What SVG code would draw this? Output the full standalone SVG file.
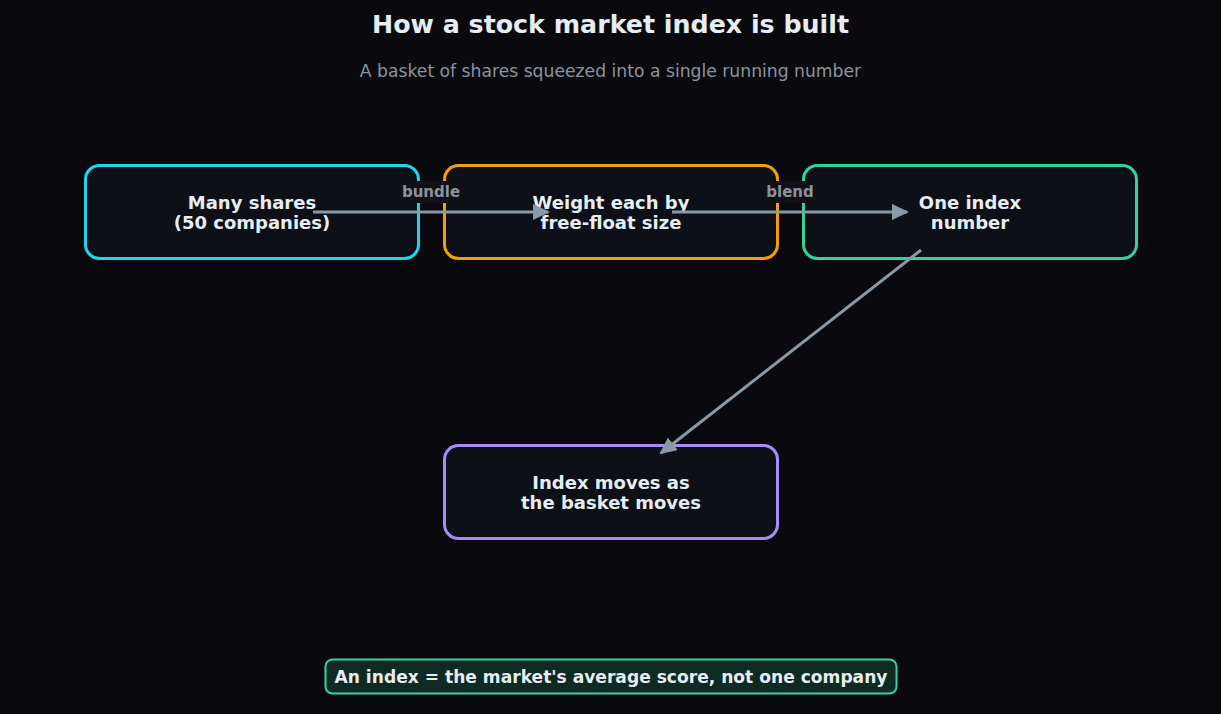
<svg xmlns="http://www.w3.org/2000/svg" width="1221" height="714" viewBox="0 0 1221 714">
<defs>
<style>
.t{font-family:"DejaVu Sans",sans-serif;font-weight:bold;fill:#e6edf3;text-anchor:middle}
.node rect{fill:#0d1017;stroke-width:3}
.lbl{font-family:"DejaVu Sans",sans-serif;font-weight:bold;font-size:15px;fill:#8b949e;text-anchor:middle}
.edge{stroke:#8b98a5;stroke-width:3;fill:none}
</style>
<marker id="ah" viewBox="0 0 17 16" refX="15" refY="8" markerWidth="17" markerHeight="16" orient="auto" markerUnits="userSpaceOnUse">
<path d="M0,0 L17,8 L0,16 z" fill="#8b98a5"/>
</marker>
</defs>
<rect width="1221" height="714" fill="#0a0a0e"/>
<text class="t" x="610.5" y="33" font-size="25.3">How a stock market index is built</text>
<text x="610.5" y="77" font-family="DejaVu Sans,sans-serif" font-size="17.2" fill="#8b949e" text-anchor="middle">A basket of shares squeezed into a single running number</text>
<g id="n1" class="node"><rect x="85.5" y="165.5" width="333" height="93" rx="14" stroke="#22d3ee"/><text class="t" font-size="18"><tspan x="252" y="209">Many shares</tspan><tspan x="252" y="229">(50 companies)</tspan></text></g>
<g id="n2" class="node"><rect x="444.5" y="165.5" width="333" height="93" rx="14" stroke="#f59e0b"/><text class="t" font-size="18"><tspan x="611" y="209">Weight each by</tspan><tspan x="611" y="229">free-float size</tspan></text></g>
<g id="n3" class="node"><rect x="803.5" y="165.5" width="333" height="93" rx="14" stroke="#34d399"/><text class="t" font-size="18"><tspan x="970" y="209">One index</tspan><tspan x="970" y="229">number</tspan></text></g>
<g id="n4" class="node"><rect x="444.5" y="445.5" width="333" height="93" rx="14" stroke="#a78bfa"/><text class="t" font-size="18"><tspan x="611" y="489">Index moves as</tspan><tspan x="611" y="509">the basket moves</tspan></text></g>
<g id="edges">
<line class="edge" x1="313" y1="212" x2="548" y2="212" marker-end="url(#ah)"/>
<rect x="398" y="181" width="67" height="22" rx="3" fill="#111115"/>
<text class="lbl" x="431" y="197">bundle</text>
<line class="edge" x1="672" y1="212" x2="907" y2="212" marker-end="url(#ah)"/>
<rect x="762" y="181" width="56" height="22" rx="3" fill="#111115"/>
<text class="lbl" x="790" y="197">blend</text>
<line class="edge" x1="921" y1="250" x2="661" y2="453" marker-end="url(#ah)"/>
</g>
<g id="footer">
<rect x="325.5" y="659.5" width="571" height="34" rx="7" fill="#0f2a22" stroke="#34d399" stroke-width="2"/>
<text x="611" y="682.5" font-family="DejaVu Sans,sans-serif" font-weight="bold" font-size="17.1" fill="#e6edf3" text-anchor="middle">An index = the market's average score, not one company</text>
</g>
</svg>
